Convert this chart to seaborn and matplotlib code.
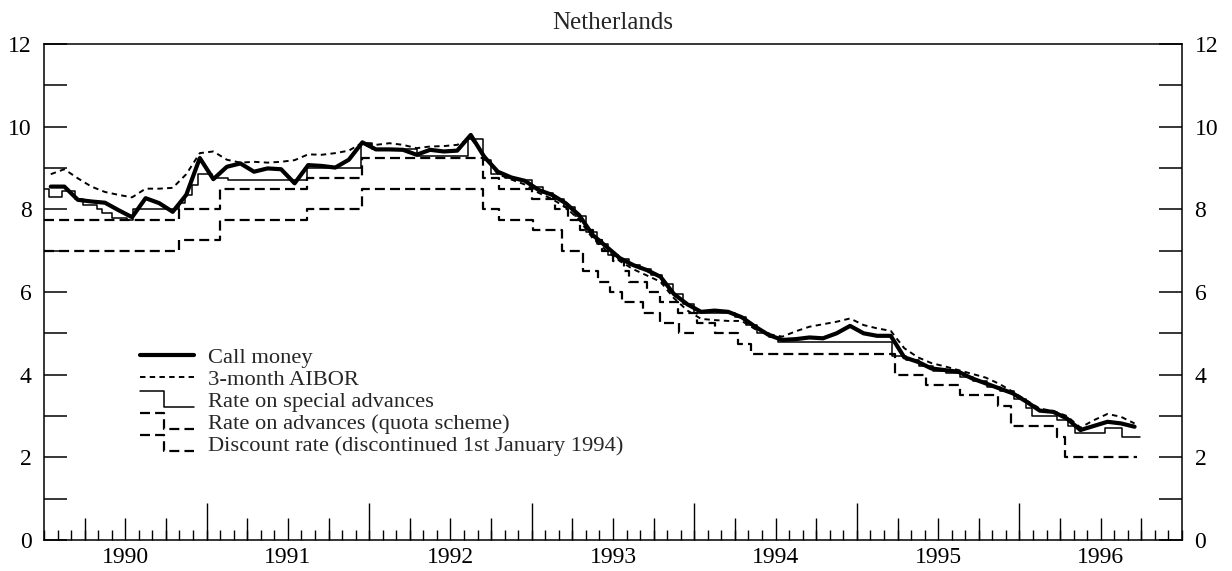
import pandas as pd
import seaborn as sns
import matplotlib.pyplot as plt
from matplotlib.lines import Line2D
from matplotlib.legend_handler import HandlerLine2D
from matplotlib.ticker import FixedLocator, MultipleLocator, NullFormatter

# monthly averages, Jan 1990 .. Sep 1996
call_money = [8.55, 8.55, 8.23, 8.19, 8.16, 7.98, 7.81, 8.27, 8.15, 7.94,
              8.35, 9.24, 8.73, 9.03, 9.11, 8.91, 8.99, 8.97, 8.63, 9.07,
              9.05, 9.01, 9.20, 9.62, 9.45, 9.45, 9.44, 9.32, 9.44, 9.40,
              9.42, 9.80, 9.27, 8.91, 8.77, 8.69, 8.47, 8.35, 8.15, 7.86,
              7.38, 7.10, 6.82, 6.65, 6.53, 6.37, 5.95, 5.70, 5.52, 5.55,
              5.52, 5.39, 5.16, 4.96, 4.84, 4.86, 4.90, 4.88, 5.00, 5.18,
              5.00, 4.94, 4.94, 4.42, 4.31, 4.15, 4.11, 4.07, 3.91, 3.79,
              3.67, 3.55, 3.35, 3.13, 3.10, 2.94, 2.66, 2.76, 2.86, 2.82,
              2.74]
aibor = [8.85, 8.97, 8.75, 8.55, 8.42, 8.35, 8.29, 8.50, 8.50, 8.52,
         8.85, 9.36, 9.40, 9.20, 9.13, 9.15, 9.13, 9.15, 9.19, 9.33,
         9.32, 9.36, 9.42, 9.61, 9.56, 9.60, 9.56, 9.48, 9.52, 9.53,
         9.56, 9.72, 9.30, 8.85, 8.72, 8.60, 8.40, 8.25, 8.05, 7.75,
         7.30, 7.00, 6.75, 6.55, 6.40, 6.25, 5.85, 5.55, 5.35, 5.32,
         5.30, 5.30, 5.10, 4.98, 4.92, 5.05, 5.16, 5.22, 5.28, 5.36,
         5.20, 5.12, 5.06, 4.64, 4.42, 4.28, 4.20, 4.11, 4.02, 3.93,
         3.78, 3.59, 3.38, 3.18, 3.12, 3.00, 2.72, 2.90, 3.05, 2.98,
         2.82]

# official rates: month (counted from Jan 1990) when each rate took effect
special_start = [0.0, 0.4, 1.3, 2.3, 2.9, 3.9, 4.3, 5.0, 6.1, 6.6,
                 10.0, 10.4, 10.9, 11.4, 12.4, 13.6, 19.4, 23.4, 24.2, 27.5,
                 31.3, 32.4, 33.0, 34.0, 35.0, 36.0, 36.8, 37.6, 38.4, 39.2,
                 40.0, 40.8, 41.6, 42.4, 43.2, 44.0, 44.8, 45.6, 46.4, 47.2,
                 48.0, 51.0, 51.8, 52.6, 53.5, 54.2, 62.6, 63.6, 64.6, 65.6,
                 66.6, 67.6, 68.6, 69.6, 70.6, 71.6, 72.5, 72.9, 74.8, 75.6,
                 76.1, 78.3, 79.6]
special_rate = [8.50, 8.30, 8.45, 8.25, 8.10, 8.00, 7.90, 7.80, 7.75, 8.00,
                8.15, 8.35, 8.60, 8.85, 8.75, 8.70, 9.00, 9.60, 9.45, 9.30,
                9.70, 9.20, 8.85, 8.75, 8.70, 8.55, 8.40, 8.25, 8.05, 7.85,
                7.45, 7.15, 6.90, 6.80, 6.65, 6.55, 6.40, 6.20, 5.95, 5.70,
                5.50, 5.40, 5.20, 5.00, 4.90, 4.80, 4.45, 4.35, 4.20, 4.10,
                4.05, 3.95, 3.85, 3.70, 3.60, 3.40, 3.20, 3.00, 2.90, 2.75,
                2.60, 2.70, 2.50]
special_end = 80.9

quota_start = [0.0, 10.0, 13.0, 19.4, 23.45, 32.4, 33.6, 36.0, 37.7, 38.7,
               39.6, 40.5, 41.2, 42.0, 42.8, 43.2, 44.5, 45.5, 46.8, 48.2,
               49.5, 51.2, 52.2, 62.8, 65.1, 67.6, 70.4, 71.4, 74.8, 75.4]
quota_rate = [7.75, 8.00, 8.50, 8.75, 9.25, 8.75, 8.50, 8.25, 8.00, 7.75,
              7.50, 7.25, 7.00, 6.75, 6.50, 6.25, 6.00, 5.75, 5.50, 5.25,
              5.00, 4.75, 4.50, 4.00, 3.75, 3.50, 3.25, 2.75, 2.50, 2.00]
quota_end = 80.7

discount_start = [0.0, 10.0, 13.0, 19.4, 23.45, 32.4, 33.6, 36.1, 38.2, 39.8,
                  40.9, 41.8, 42.7, 44.2, 45.5, 46.9]
discount_rate = [7.00, 7.25, 7.75, 8.00, 8.50, 8.00, 7.75, 7.50, 7.00, 6.50,
                 6.25, 6.00, 5.75, 5.50, 5.25, 5.00]
discount_end = 48.0

years = [1990, 1991, 1992, 1993, 1994, 1995, 1996]

labels = ["Call money", "3-month AIBOR", "Rate on special advances",
          "Rate on advances (quota scheme)",
          "Discount rate (discontinued 1st January 1994)"]


def monthly_frame(values):
    months = pd.Series(range(len(values)))
    return pd.DataFrame({"x": 1990 + (months + 0.5) / 12, "y": values})


def step_frame(starts, rates, end):
    x = [1990 + m / 12 for m in starts + [end]]
    return pd.DataFrame({"x": x, "y": rates + [rates[-1]]})


class StepHandler(HandlerLine2D):
    # legend key drawn as a small step, like the official rate lines
    def create_artists(self, legend, orig_handle, xdescent, ydescent,
                       width, height, fontsize, trans):
        x0 = -xdescent
        xm = x0 + width * 0.45
        ymid = height / 2 - ydescent
        off = height * 0.5
        line = Line2D([x0, xm, xm, x0 + width],
                      [ymid + off, ymid + off, ymid - off, ymid - off])
        self.update_prop(line, orig_handle, legend)
        line.set_transform(trans)
        return [line]


sns.set_theme(style="ticks")
plt.rcParams["font.family"] = ["Liberation Serif", "DejaVu Serif"]
plt.rcParams["font.size"] = 17

fig = plt.figure(figsize=(12.32, 5.71), dpi=100)
ax = fig.add_axes([44 / 1232, 1 - 540 / 571, 1138 / 1232, 496 / 571])

sns.lineplot(data=monthly_frame(call_money), x="x", y="y", ax=ax,
             color="black", linewidth=3.0, label=labels[0])
sns.lineplot(data=monthly_frame(aibor), x="x", y="y", ax=ax,
             color="black", linewidth=1.4, linestyle=(0, (2.8, 2.2)),
             label=labels[1])
sns.lineplot(data=step_frame(special_start, special_rate, special_end),
             x="x", y="y", ax=ax, color="black", linewidth=1.1,
             drawstyle="steps-post", label=labels[2])
sns.lineplot(data=step_frame(quota_start, quota_rate, quota_end),
             x="x", y="y", ax=ax, color="black", linewidth=1.6,
             linestyle=(0, (4.5, 2.3)), drawstyle="steps-post",
             label=labels[3])
sns.lineplot(data=step_frame(discount_start, discount_rate, discount_end),
             x="x", y="y", ax=ax, color="black", linewidth=1.6,
             linestyle=(0, (4.5, 2.3)), drawstyle="steps-post",
             label=labels[4])

ax.set_xlim(years[0], years[-1] + 1)
ax.set_ylim(0, 12)
ax.set_xlabel("")
ax.set_ylabel("")
ax.set_title("Netherlands", fontsize=18, pad=11)

for side in ["left", "right", "top", "bottom"]:
    ax.spines[side].set_visible(True)
    ax.spines[side].set_linewidth(1.1)
    ax.spines[side].set_color("black")

# y axis: ticks every unit, labels on even values, both sides
ax.yaxis.set_major_locator(MultipleLocator(2))
ax.yaxis.set_minor_locator(MultipleLocator(1))
ax.tick_params(axis="y", which="both", direction="in", length=16.5,
               width=1.1, left=True, right=True, labelleft=True,
               labelright=True, pad=9, labelsize=17, colors="black")

# x axis: labels at mid-year, monthly minor ticks
ax.xaxis.set_major_locator(FixedLocator([y + 0.5 for y in years]))
ax.set_xticklabels([str(y) for y in years])
ax.xaxis.set_minor_locator(MultipleLocator(1 / 12))
ax.xaxis.set_minor_formatter(NullFormatter())
ax.tick_params(axis="x", which="major", direction="in", length=16,
               width=1.0, pad=5, labelsize=17, top=False, colors="black")
ax.tick_params(axis="x", which="minor", direction="in", length=7.5,
               width=1.0, top=False, colors="black")

# year boundaries and quarters on a second bottom axis
sec = ax.secondary_xaxis("bottom")
sec.xaxis.set_major_locator(FixedLocator(years[1:]))
sec.xaxis.set_minor_locator(FixedLocator(
    [y + q for y in years for q in (0.25, 0.75)]))
sec.xaxis.set_major_formatter(NullFormatter())
sec.xaxis.set_minor_formatter(NullFormatter())
sec.tick_params(which="major", direction="in", length=27, width=1.0,
                colors="black")
sec.tick_params(which="minor", direction="in", length=16, width=1.0,
                colors="black")
sec.spines["bottom"].set_visible(False)

handles, _ = ax.get_legend_handles_labels()
step_map = {h: StepHandler() for h in handles[2:]}
ax.legend(handles, labels, handler_map=step_map, loc="upper left",
          bbox_to_anchor=(140 / 1232, 1 - 347 / 571),
          bbox_transform=fig.transFigure, frameon=False, fontsize=16.2,
          handlelength=2.4, handletextpad=0.62, labelspacing=0.06,
          borderpad=0, borderaxespad=0)

fig.savefig("out.png", dpi=100)
